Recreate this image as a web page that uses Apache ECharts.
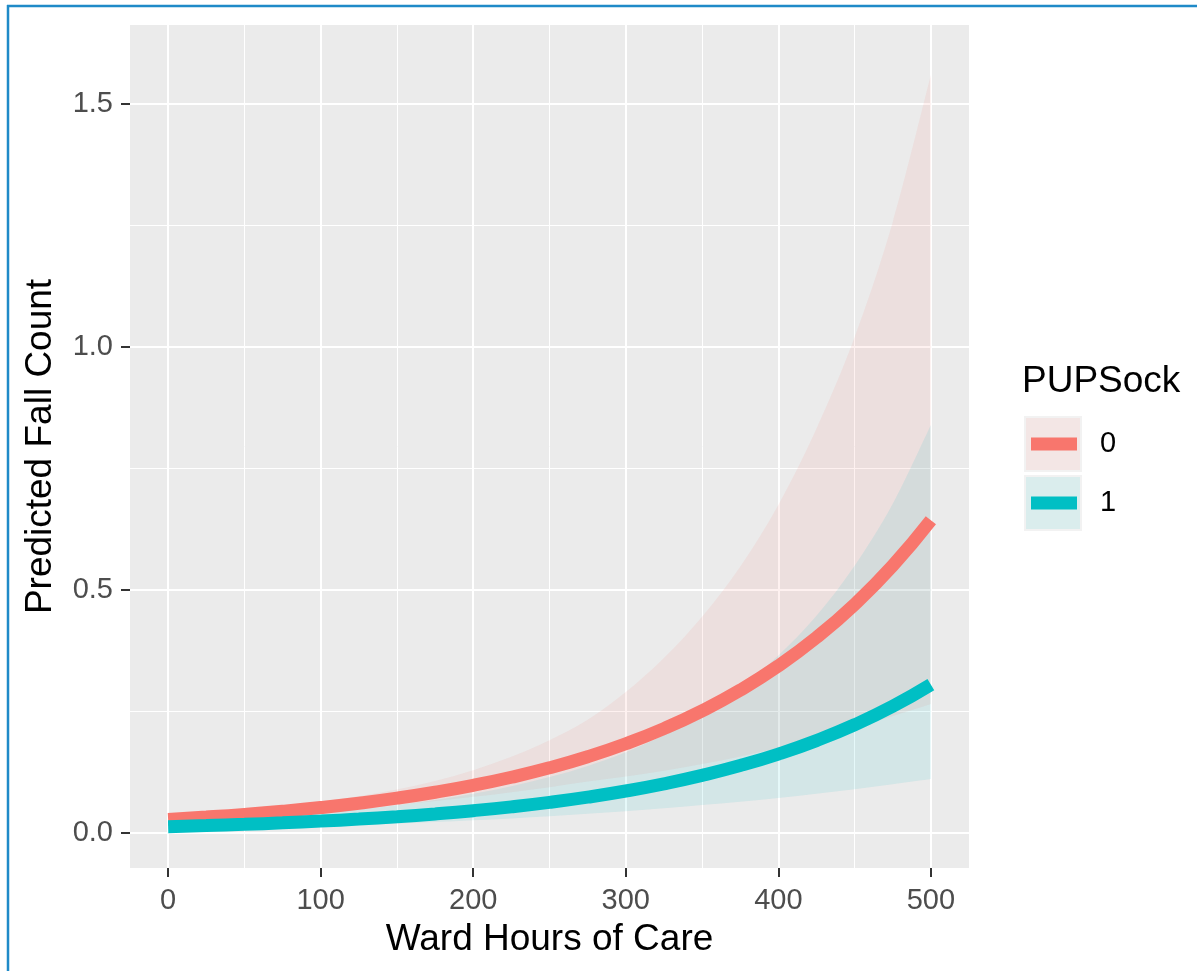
<!DOCTYPE html>
<html>
<head>
<meta charset="utf-8">
<script src="https://cdn.jsdelivr.net/npm/echarts@6/dist/echarts.min.js"></script>
<style>
html,body{margin:0;padding:0;background:#fff;}
#main{width:1197px;height:971px;}
</style>
</head>
<body>
<div id="main"></div>
<script>
// ---- data ----
const hours = [0,25,50,75,100,125,150,175,200,225,250,275,300,325,350,375,400,425,450,475,500];
// PUPSock = 0
const fit0   = [0.0280,0.0328,0.0383,0.0448,0.0524,0.0613,0.0717,0.0839,0.0981,0.1148,0.1342,0.1570,0.1837,0.2148,0.2513,0.2939,0.3438,0.4022,0.4704,0.5502,0.6436];
const lower0 = [0.0202,0.0248,0.0300,0.0358,0.0424,0.0497,0.0574,0.0657,0.0744,0.0840,0.0944,0.1058,0.1164,0.1282,0.1419,0.1576,0.1751,0.1944,0.2169,0.2409,0.2656];
const upper0 = [0.0389,0.0434,0.0489,0.0560,0.0647,0.0756,0.0895,0.1072,0.1293,0.1568,0.1907,0.2329,0.2900,0.3600,0.4450,0.5480,0.6750,0.8320,1.0200,1.2566,1.5595];
// PUPSock = 1
const fit1   = [0.0130,0.0152,0.0178,0.0209,0.0245,0.0286,0.0335,0.0393,0.0460,0.0538,0.0630,0.0738,0.0864,0.1012,0.1185,0.1387,0.1624,0.1902,0.2227,0.2607,0.3053];
const lower1 = [0.0072,0.0086,0.0103,0.0122,0.0144,0.0168,0.0196,0.0227,0.0262,0.0301,0.0345,0.0394,0.0449,0.0508,0.0574,0.0644,0.0722,0.0809,0.0902,0.1003,0.1110];
const upper1 = [0.0235,0.0269,0.0308,0.0358,0.0417,0.0487,0.0573,0.0680,0.0807,0.0961,0.1150,0.1381,0.1663,0.2016,0.2448,0.2986,0.3651,0.4470,0.5501,0.6776,0.8396];

const groups = ['0','1'];
const xTicks = [0,100,200,300,400,500];
const xMinorTicks = [50,150,250,350,450];
const yTicks = [0,0.5,1.0,1.5];
const yMinorTicks = [0.25,0.75,1.25];
const xTitle = 'Ward Hours of Care';
const yTitle = 'Predicted Fall Count';
const legendTitle = 'PUPSock';

// ---- build ----
const FONT = 'Liberation Sans, Arial, sans-serif';
const RED = '#F8766D', TEAL = '#00BFC4';
const pairs = (ys) => hours.map((h,i)=>[h, ys[i]]);

// Catmull-Rom through pixel points -> path commands
function splineCmds(pts, startWithMove) {
  let d = (startWithMove ? 'M' : 'L') + pts[0][0] + ' ' + pts[0][1];
  for (let i = 0; i < pts.length - 1; i++) {
    const p0 = pts[i - 1] || pts[i], p1 = pts[i], p2 = pts[i + 1], p3 = pts[i + 2] || pts[i + 1];
    const c1x = p1[0] + (p2[0] - p0[0]) / 6, c1y = p1[1] + (p2[1] - p0[1]) / 6;
    const c2x = p2[0] - (p3[0] - p1[0]) / 6, c2y = p2[1] - (p3[1] - p1[1]) / 6;
    d += ' C' + c1x + ' ' + c1y + ' ' + c2x + ' ' + c2y + ' ' + p2[0] + ' ' + p2[1];
  }
  return d;
}

function ribbonSeries(name, lo, hi, fill) {
  return {
    name: name, type: 'custom', silent: true, z: 2, clip: true,
    data: hours.map((h, i) => [h, lo[i], hi[i]]),
    encode: {x: 0, y: [1, 2]},
    renderItem: function (params, api) {
      if (params.dataIndex !== 0) return null;
      const up = hours.map((h, i) => api.coord([h, hi[i]]));
      const dn = hours.map((h, i) => api.coord([h, lo[i]])).reverse();
      const d = splineCmds(up, true) + ' ' + splineCmds(dn, false) + ' Z';
      return {type: 'path', shape: {pathData: d}, style: {fill: fill, stroke: null}};
    }
  };
}

const chart = echarts.init(document.getElementById('main'), null, {renderer:'canvas'});
const option = {
  animation:false,
  backgroundColor:'#ffffff',
  grid:{left:130, right:228, top:25, bottom:103, show:true, backgroundColor:'#EBEBEB', borderWidth:0, containLabel:false},
  title:{text: legendTitle, left:1022, top:363, padding:0,
         textStyle:{fontFamily:FONT, fontSize:37, fontWeight:'normal', color:'#000'}},
  legend:{data: groups, orient:'vertical', left:1031, top:429, padding:0,
          itemWidth:46, itemHeight:13, itemGap:29, icon:'rect',
          textStyle:{fontFamily:FONT, fontSize:29, color:'#000', lineHeight:30, padding:[0,0,0,18]},
          selectedMode:false},
  xAxis:[
    {type:'value', min:-25, max:525, position:'bottom',
     name:xTitle, nameLocation:'middle', nameGap:53,
     nameTextStyle:{fontFamily:FONT, fontSize:37, color:'#000'},
     axisLine:{show:false, onZero:false},
     axisTick:{show:true, customValues:xTicks, length:9, lineStyle:{color:'#333333', width:2}},
     axisLabel:{customValues:xTicks, margin:18, fontFamily:FONT, fontSize:29, color:'#4D4D4D'},
     splitLine:{show:true, lineStyle:{color:'#FFFFFF', width:2}}},
    {type:'value', min:-25, max:525, position:'bottom',
     axisLine:{show:false, onZero:false},
     axisTick:{show:false, customValues:xMinorTicks},
     axisLabel:{show:false, customValues:xMinorTicks},
     splitLine:{show:true, lineStyle:{color:'#FFFFFF', width:1}}}
  ],
  yAxis:[
    {type:'value', min:-0.072, max:1.6626, position:'left',
     name:yTitle, nameLocation:'middle', nameGap:71,
     nameTextStyle:{fontFamily:FONT, fontSize:37, color:'#000'},
     axisLine:{show:false, onZero:false},
     axisTick:{show:true, customValues:yTicks, length:9, lineStyle:{color:'#333333', width:2}},
     axisLabel:{customValues:yTicks, margin:17, fontFamily:FONT, fontSize:29, color:'#4D4D4D',
                formatter:(v)=>Number(v).toFixed(1)},
     splitLine:{show:true, lineStyle:{color:'#FFFFFF', width:2}}},
    {type:'value', min:-0.072, max:1.6626, position:'left',
     axisLine:{show:false, onZero:false},
     axisTick:{show:false, customValues:yMinorTicks},
     axisLabel:{show:false, customValues:yMinorTicks},
     splitLine:{show:true, lineStyle:{color:'#FFFFFF', width:1}}}
  ],
  series:[
    ribbonSeries('ci0', lower0, upper0, 'rgba(248,118,109,0.1)'),
    ribbonSeries('ci1', lower1, upper1, 'rgba(0,191,196,0.1)'),
    {name:'0', type:'line', data:pairs(fit0), smooth:true, symbol:'none', z:3,
     itemStyle:{color:RED}, lineStyle:{color:RED, width:13, cap:'butt'}},
    {name:'1', type:'line', data:pairs(fit1), smooth:true, symbol:'none', z:4,
     itemStyle:{color:TEAL}, lineStyle:{color:TEAL, width:13, cap:'butt'}}
  ],
  graphic:[
    {type:'rect', shape:{x:1025, y:417, width:56, height:54}, style:{fill:'#F3E6E5', stroke:'#F2F2F2', lineWidth:2}, z:-1, silent:true},
    {type:'rect', shape:{x:1025, y:476, width:56, height:54}, style:{fill:'#DAEDED', stroke:'#F2F2F2', lineWidth:2}, z:-1, silent:true},
    {type:'line', shape:{x1:7, y1:6, x2:1197, y2:6}, style:{stroke:'#1F8AC8', lineWidth:2.5}, silent:true},
    {type:'line', shape:{x1:8, y1:5, x2:8, y2:971}, style:{stroke:'#1F8AC8', lineWidth:2.5}, silent:true}
  ]
};
chart.setOption(option);
</script>
</body>
</html>
